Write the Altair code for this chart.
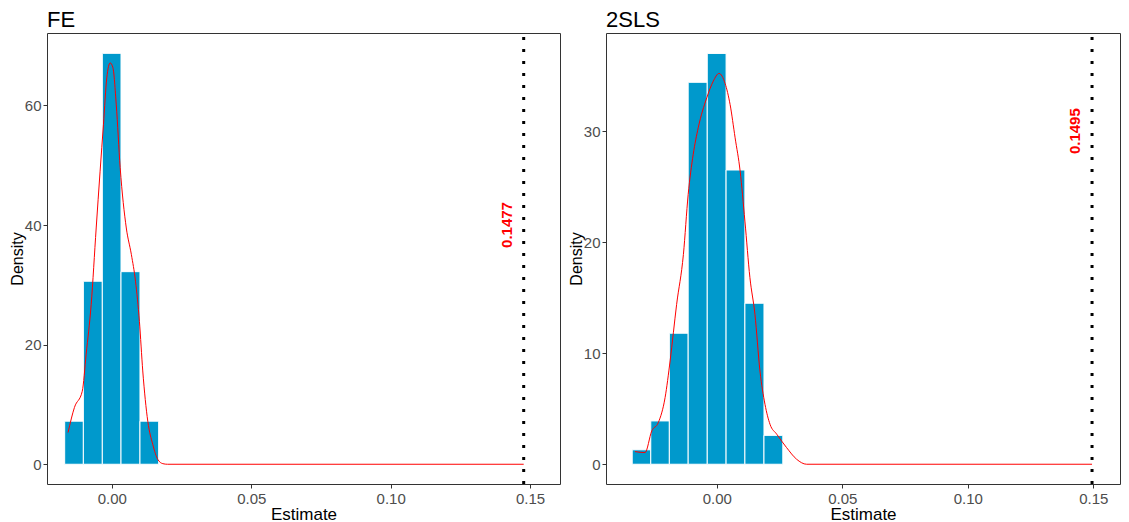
import altair as alt
import pandas as pd

# ---------------- data ----------------
fe_bin_start = [-0.0169, -0.0102, -0.0034, 0.0033, 0.0101]
fe_bin_end = [-0.0102, -0.0034, 0.0033, 0.0101, 0.0168]
fe_density = [7.2, 30.6, 68.7, 32.2, 7.2]
fe_curve_x = [-0.0157, -0.0134, -0.0106, -0.0092, -0.0074, -0.0056, -0.0042, -0.0030,
              -0.0018, -0.0006, 0.0004, 0.0016, 0.0030, 0.0052, 0.0070, 0.0085,
              0.0099, 0.0111, 0.0129, 0.0147, 0.0165, 0.0183, 0.0200, 0.1477]
fe_curve_y = [5.3, 9.5, 12.2, 18.4, 26.7, 39.5, 49.0, 56.8,
              64.6, 67.1, 66.3, 60.1, 49.6, 39.5, 35.1, 30.6,
              23.9, 15.6, 7.2, 3.3, 0.8, 0.1, 0.0, 0.0]
fe_estimate = 0.1477
fe_label = "0.1477"
fe_label_y = 40

iv_bin_start = [-0.0337, -0.0263, -0.0189, -0.0114, -0.0038, 0.0037, 0.0112, 0.0188]
iv_bin_end = [-0.0263, -0.0189, -0.0114, -0.0038, 0.0037, 0.0112, 0.0188, 0.0263]
iv_density = [1.3, 3.9, 11.8, 34.4, 37.0, 26.5, 14.5, 2.6]
iv_curve_x = [-0.0326, -0.0286, -0.0259, -0.0233, -0.0206, -0.0186, -0.0160, -0.0133,
              -0.0114, -0.0094, -0.0074, -0.0040, -0.0014, 0.0009, 0.0033, 0.0053,
              0.0073, 0.0093, 0.0112, 0.0132, 0.0152, 0.0172, 0.0192, 0.0212,
              0.0239, 0.0278, 0.0318, 0.0358, 0.1495]
iv_curve_y = [1.14, 1.05, 3.0, 3.75, 6.0, 9.3, 14.4, 18.9,
              24.3, 27.9, 30.3, 33.0, 34.5, 35.2, 34.3, 32.4,
              29.4, 26.4, 21.9, 16.8, 13.5, 8.4, 5.4, 3.6,
              2.7, 1.5, 0.45, 0.0, 0.0]
iv_estimate = 0.1495
iv_label = "0.1495"
iv_label_y = 30

x_ticks = [0.0, 0.05, 0.10, 0.15]
fe_y_ticks = [0, 20, 40, 60]
iv_y_ticks = [0, 10, 20, 30]

# ---------------- layout ----------------
H = 451
W1 = 513
W2 = 514
SPACING = 6
FE_XDOM = [-0.02324, 0.16072]
IV_XDOM = [-0.04414, 0.16064]
FE_YDOM = [-3.3, 72.1]
IV_YDOM = [-1.78, 38.84]

BAR = "#0099CC"
FONT = "Liberation Sans"


def panel(title, bs, be, dens, cx, cy, est, label, label_y, xdom, ydom, yticks, width):
    xs = alt.Scale(domain=xdom, nice=False, zero=False)
    ys = alt.Scale(domain=ydom, nice=False, zero=False)
    xaxis = alt.Axis(values=x_ticks, format=".2f", title="Estimate")
    yaxis = alt.Axis(values=yticks, format="d", title="Density")

    bars = pd.DataFrame({"start": bs, "end": be, "density": dens})
    curve = pd.DataFrame({"x": cx, "y": cy})
    est_df = pd.DataFrame({"est": [est], "label": [label], "ly": [label_y]})

    hist = alt.Chart(bars).mark_rect(fill=BAR, stroke="white", strokeWidth=1).encode(
        x=alt.X("start:Q", scale=xs, axis=xaxis),
        x2="end:Q",
        y=alt.Y("density:Q", scale=ys, axis=yaxis),
        y2=alt.datum(0),
    )
    line = alt.Chart(curve).mark_line(
        color="#FF0000", strokeWidth=1, interpolate="monotone"
    ).encode(
        x=alt.X("x:Q", scale=xs, axis=xaxis),
        y=alt.Y("y:Q", scale=ys, axis=yaxis),
    )
    rule = alt.Chart(est_df).mark_rule(
        color="black", strokeWidth=3, strokeDash=[3, 9], strokeCap="butt"
    ).encode(
        x=alt.X("est:Q", scale=xs, axis=xaxis),
        y=alt.value(H),
        y2=alt.value(0),
    )
    text = alt.Chart(est_df).mark_text(
        angle=270, color="#FF0000", fontWeight="bold", fontSize=15,
        dy=-17, align="center", baseline="middle", font=FONT,
    ).encode(
        x=alt.X("est:Q", scale=xs, axis=xaxis),
        y=alt.Y("ly:Q", scale=ys, axis=yaxis),
        text="label:N",
    )
    return alt.layer(hist, line, rule, text).properties(
        width=width,
        height=H,
        title=alt.TitleParams(
            title, anchor="start", frame="group", fontSize=22,
            fontWeight="normal", color="black", font=FONT, offset=0,
        ),
    )


left = panel("FE", fe_bin_start, fe_bin_end, fe_density, fe_curve_x, fe_curve_y,
             fe_estimate, fe_label, fe_label_y, FE_XDOM, FE_YDOM, fe_y_ticks, W1)
right = panel("2SLS", iv_bin_start, iv_bin_end, iv_density, iv_curve_x, iv_curve_y,
              iv_estimate, iv_label, iv_label_y, IV_XDOM, IV_YDOM, iv_y_ticks, W2)

chart = alt.hconcat(left, right, spacing=SPACING).properties(
    padding={"left": 0, "top": 0, "right": 0, "bottom": 0}
).configure(
    font=FONT, background="white"
).configure_view(
    stroke="#333333", strokeWidth=1
).configure_axis(
    grid=False, domain=False, ticks=True, tickColor="#333333", tickSize=4, tickWidth=1,
    labelColor="#4D4D4D", labelFontSize=15, labelFont=FONT, labelPadding=2,
    titleColor="black", titleFontSize=17, titleFont=FONT, titleFontWeight="normal",
    titlePadding=1,
).configure_axisY(
    titleFontSize=16, titlePadding=-1,
).configure_axisX(
    labelPadding=3, titlePadding=0,
)

chart.save("out.html", embed_options={"renderer": "svg", "actions": False})
